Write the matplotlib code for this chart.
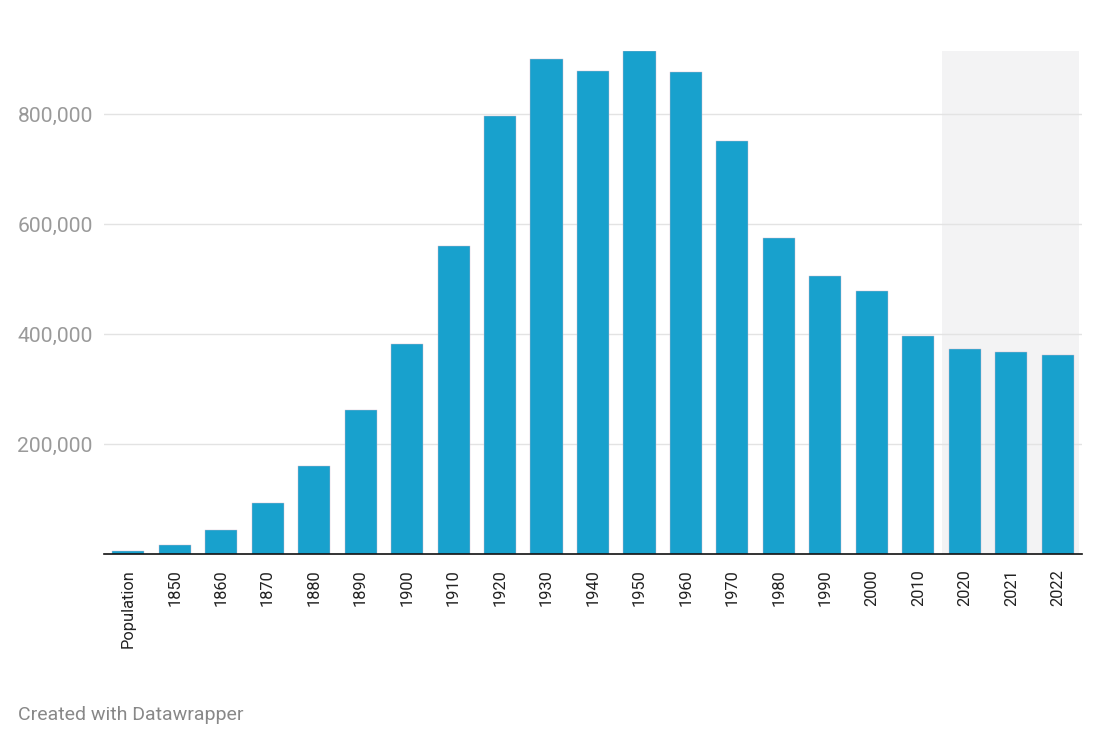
import matplotlib
matplotlib.use("Agg")
import matplotlib.pyplot as plt
from matplotlib.ticker import FuncFormatter

categories = ["Population", "1850", "1860", "1870", "1880", "1890", "1900", "1910",
              "1920", "1930", "1940", "1950", "1960", "1970", "1980", "1990",
              "2000", "2010", "2020", "2021", "2022"]
population = [6071, 17034, 43417, 92829, 160146, 261353, 381768, 560663,
              796841, 900429, 878336, 914808, 876050, 750903, 573822, 505616,
              478403, 396815, 372624, 367991, 361607]
yticks = [200000, 400000, 600000, 800000]
highlight_start, highlight_end = "2020", "2022"

plt.rcParams['font.family'] = ['Roboto', 'DejaVu Sans']

fig = plt.figure(figsize=(11, 7.45), dpi=100)
ax = fig.add_axes([104/1100, (745-554)/745, (1082-104)/1100, (554-51)/745])

x = list(range(len(categories)))
i0 = categories.index(highlight_start)
i1 = categories.index(highlight_end)
ax.axvspan(i0 - 0.5, i1 + 0.45, ymin=0, ymax=1, color="#f3f3f4", zorder=0, lw=0)

ax.bar(x, population, width=0.69, color="#18a1cd", edgecolor="#d0b8cc",
       linewidth=0.3, zorder=3)

ax.set_xlim(-0.52, len(categories) - 1 + 0.52)
ax.set_ylim(0, max(population))
ax.set_yticks(yticks)
ax.yaxis.set_major_formatter(FuncFormatter(lambda v, p: f"{int(v):,}"))
ax.grid(axis="y", color="#e3e3e3", linewidth=1, zorder=1)
ax.set_axisbelow(True)

ax.set_xticks(x)
ax.set_xticklabels(categories, rotation=90, fontsize=11.8, color="#222222")
ax.tick_params(axis="x", length=0, pad=11)
ax.tick_params(axis="y", length=0, pad=8, labelsize=15.2, labelcolor="#9a9a9a")

for s in ["top", "right", "left"]:
    ax.spines[s].set_visible(False)
ax.spines["bottom"].set_color("#111111")
ax.spines["bottom"].set_linewidth(1.2)
ax.spines["bottom"].set_zorder(4)

fig.text(18/1100, 1 - 715/745, "Created with Datawrapper", fontsize=14,
         color="#888888", va="center", ha="left")

fig.savefig("out.png", dpi=100, facecolor="white")
